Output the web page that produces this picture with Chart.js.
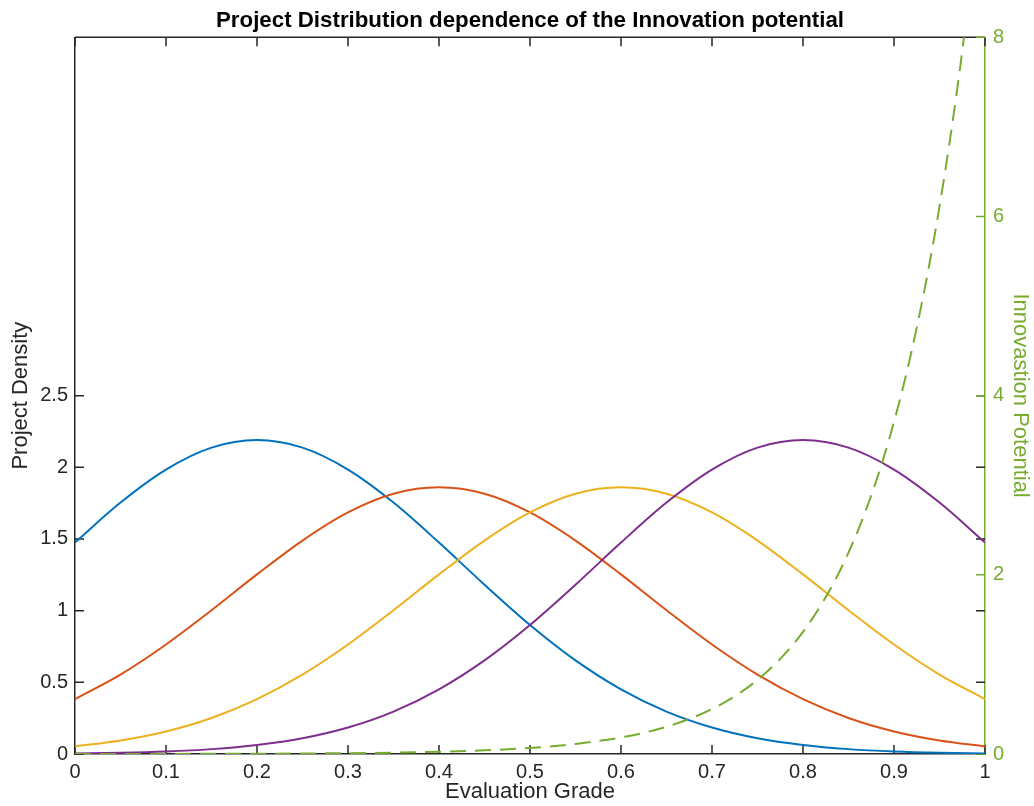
<!DOCTYPE html>
<html>
<head>
<meta charset="utf-8">
<script src="https://cdn.jsdelivr.net/npm/chart.js@4.4.1/dist/chart.umd.min.js"></script>
<style>
  html, body { margin: 0; padding: 0; background: #fff; }
  #wrap { width: 1034px; height: 806px; position: relative; }
</style>
</head>
<body>
<div id="wrap"><canvas id="chart"></canvas></div>
<script>
// evaluation grade samples (x) for the density curves
const grades = [0, 0.05, 0.1, 0.15, 0.2, 0.25, 0.3, 0.35, 0.4, 0.45, 0.5,
                0.55, 0.6, 0.65, 0.7, 0.75, 0.8, 0.85, 0.9, 0.95, 1];

// project density curves (left axis)
const densityPeak02 = [1.475, 1.754, 1.984, 2.137, 2.19, 2.137, 1.984, 1.754, 1.475, 1.181, 0.900,
                       0.653, 0.451, 0.296, 0.185, 0.110, 0.063, 0.034, 0.017, 0.008, 0.004];
const densityPeak04 = [0.383, 0.554, 0.764, 1.003, 1.253, 1.489, 1.685, 1.815, 1.86, 1.815, 1.685,
                       1.489, 1.253, 1.003, 0.764, 0.554, 0.383, 0.251, 0.157, 0.094, 0.053];
const densityPeak06 = [0.053, 0.094, 0.157, 0.251, 0.383, 0.554, 0.764, 1.003, 1.253, 1.489, 1.685,
                       1.815, 1.86, 1.815, 1.685, 1.489, 1.253, 1.003, 0.764, 0.554, 0.383];
const densityPeak08 = [0.004, 0.008, 0.017, 0.034, 0.063, 0.110, 0.185, 0.296, 0.451, 0.653, 0.900,
                       1.181, 1.475, 1.754, 1.984, 2.137, 2.19, 2.137, 1.984, 1.754, 1.475];

// innovation potential (right axis), denser samples where it climbs
const innovationGrades = [0, 0.05, 0.1, 0.15, 0.2, 0.25, 0.3, 0.35, 0.4, 0.45, 0.5, 0.55, 0.6,
                          0.625, 0.65, 0.675, 0.7, 0.725, 0.75, 0.775, 0.8, 0.825, 0.85,
                          0.875, 0.9, 0.925, 0.95, 0.975, 1];
const innovation = [0.0005, 0.0008, 0.0012, 0.002, 0.0034, 0.0056, 0.0092, 0.015, 0.025, 0.041, 0.068, 0.112, 0.185,
                    0.237, 0.304, 0.391, 0.502, 0.644, 0.827, 1.062, 1.363, 1.751, 2.248,
                    2.886, 3.706, 4.759, 6.11, 7.846, 10.07];

// tick labels
const gradeTicks = [0, 0.1, 0.2, 0.3, 0.4, 0.5, 0.6, 0.7, 0.8, 0.9, 1];
const densityTicks = [0, 0.5, 1, 1.5, 2, 2.5];
const potentialTicks = [0, 2, 4, 6, 8];

const FONT = '"Liberation Sans", Arial, Helvetica, sans-serif';
const AXIS = '#262626';
const GREEN = '#77AC30';
const TICK_LEN = 9;

const pts = (xs, ys) => xs.map((g, i) => ({ x: g, y: ys[i] }));

function curve(ys, color, order) {
  return {
    data: pts(grades, ys),
    borderColor: color,
    borderWidth: 2,
    pointRadius: 0,
    cubicInterpolationMode: 'monotone',
    yAxisID: 'y',
    order: order
  };
}

// MATLAB-like inward ticks on all four sides plus the top edge of the box
const boxTicks = {
  id: 'boxTicks',
  beforeDatasetsDraw(chart) {
    const { ctx, chartArea: a, scales } = chart;
    ctx.save();
    ctx.lineWidth = 1.5;
    ctx.strokeStyle = AXIS;
    ctx.beginPath();
    ctx.moveTo(a.left, a.top);
    ctx.lineTo(a.right, a.top);
    scales.x.ticks.forEach(t => {
      const px = scales.x.getPixelForValue(t.value);
      ctx.moveTo(px, a.bottom); ctx.lineTo(px, a.bottom - TICK_LEN);
      ctx.moveTo(px, a.top); ctx.lineTo(px, a.top + TICK_LEN);
    });
    scales.y.ticks.forEach(t => {
      const py = scales.y.getPixelForValue(t.value);
      ctx.moveTo(a.left, py); ctx.lineTo(a.left + TICK_LEN, py);
      ctx.moveTo(a.right, py); ctx.lineTo(a.right - TICK_LEN, py);
    });
    ctx.stroke();
    ctx.strokeStyle = GREEN;
    ctx.beginPath();
    scales.y2.ticks.forEach(t => {
      const py = scales.y2.getPixelForValue(t.value);
      ctx.moveTo(a.right, py); ctx.lineTo(a.right - TICK_LEN, py);
    });
    ctx.stroke();
    ctx.restore();
  }
};

const fmt = v => String(+Number(v).toFixed(2));

new Chart(document.getElementById('chart'), {
  type: 'line',
  data: {
    datasets: [
      curve(densityPeak02, '#0072BD', 4),
      curve(densityPeak04, '#D95319', 3),
      curve(densityPeak06, '#EDB120', 2),
      curve(densityPeak08, '#7E2F8E', 1),
      {
        data: pts(innovationGrades, innovation),
        borderColor: GREEN,
        borderWidth: 2,
        borderDash: [16, 9],
        pointRadius: 0,
        cubicInterpolationMode: 'monotone',
        yAxisID: 'y2',
        order: 0
      }
    ]
  },
  options: {
    responsive: true,
    maintainAspectRatio: false,
    animation: false,
    devicePixelRatio: 1,
    layout: { padding: 0 },
    plugins: {
      legend: { display: false },
      tooltip: { enabled: false },
      title: {
        display: true,
        text: 'Project Distribution dependence of the Innovation potential',
        color: '#000',
        fullSize: false,
        font: { family: FONT, size: 22.3, weight: 'bold' },
        padding: { top: 7.5, bottom: 3 }
      }
    },
    scales: {
      x: {
        type: 'linear',
        position: 'bottom',
        min: 0,
        max: 1,
        afterBuildTicks: s => { s.ticks = gradeTicks.map(v => ({ value: v })); },
        afterFit: s => { s.height = 52; },
        grid: { display: false, drawTicks: false },
        border: { display: true, color: AXIS, width: 1.5 },
        ticks: {
          color: AXIS, padding: 6, maxRotation: 0, autoSkip: false,
          font: { family: FONT, size: 20 },
          callback: fmt
        },
        title: {
          display: true, text: 'Evaluation Grade', color: AXIS,
          font: { family: FONT, size: 22 },
          padding: { top: 0, bottom: 0.5 }
        }
      },
      y: {
        type: 'linear',
        position: 'left',
        min: 0,
        max: 5,
        afterBuildTicks: s => { s.ticks = densityTicks.map(v => ({ value: v })); },
        afterFit: s => { s.width = 75; },
        grid: { display: false, drawTicks: false },
        border: { display: true, color: AXIS, width: 1.5 },
        ticks: {
          color: AXIS, padding: 7,
          font: { family: FONT, size: 20 },
          callback: fmt
        },
        title: {
          display: true, text: 'Project Density', color: AXIS,
          font: { family: FONT, size: 22 },
          padding: { top: 8, bottom: 0 }
        }
      },
      y2: {
        type: 'linear',
        position: 'right',
        min: 0,
        max: 8,
        afterBuildTicks: s => { s.ticks = potentialTicks.map(v => ({ value: v })); },
        afterFit: s => { s.width = 49; },
        grid: { display: false, drawTicks: false },
        border: { display: true, color: GREEN, width: 1.5 },
        ticks: {
          color: GREEN, padding: 8,
          font: { family: FONT, size: 20 },
          callback: fmt
        },
        title: {
          display: true, text: 'Innovastion Potential', color: GREEN,
          font: { family: FONT, size: 22 },
          padding: { top: 0.8, bottom: 0 }
        }
      }
    }
  },
  plugins: [boxTicks]
});
</script>
</body>
</html>
